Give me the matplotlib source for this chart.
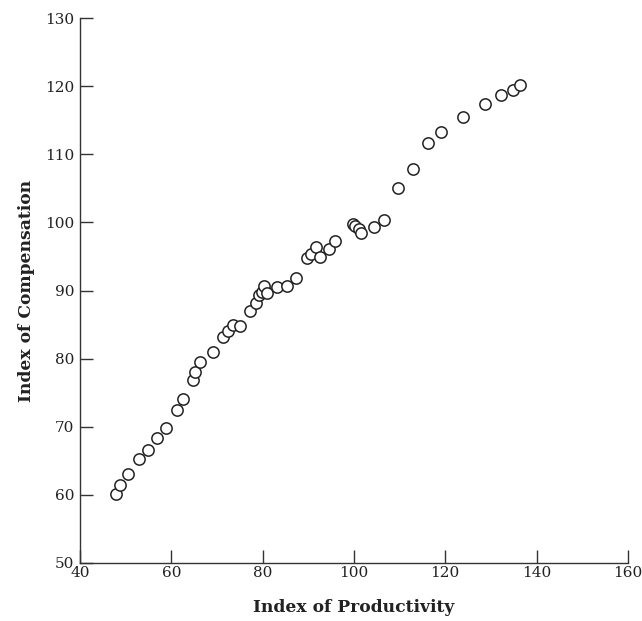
import matplotlib
matplotlib.use("Agg")
import matplotlib.pyplot as plt

# index of productivity (x) vs index of compensation (y)
productivity = [47.9, 48.8, 50.5, 52.9, 54.9, 56.9, 58.8, 61.2, 62.6, 64.7,
                65.2, 66.3, 69.1, 71.3, 72.4, 73.5, 75.0, 77.2, 78.5, 79.2,
                79.9, 80.3, 80.9, 83.1, 85.3, 87.3, 89.7, 90.6, 91.7, 92.5,
                94.5, 95.8, 99.8, 100.3, 101.0, 101.5, 104.4, 106.6, 109.6, 112.9,
                116.2, 119.0, 123.8, 128.7, 132.2, 134.8, 136.4]
compensation = [60.1, 61.4, 63.1, 65.2, 66.6, 68.3, 69.8, 72.4, 74.1, 76.9,
                78.1, 79.5, 80.9, 83.2, 84.0, 85.0, 84.8, 87.0, 88.2, 89.3,
                89.8, 90.7, 89.6, 90.5, 90.6, 91.8, 94.7, 95.4, 96.4, 94.9,
                96.1, 97.3, 99.8, 99.4, 99.0, 98.5, 99.3, 100.3, 105.0, 107.8,
                111.7, 113.2, 115.4, 117.4, 118.7, 119.4, 120.1]

plt.rcParams['font.family'] = ['DejaVu Serif']

fig = plt.figure(figsize=(6.42, 6.21), dpi=100)
ax = fig.add_axes([0.1246, 0.0934, 0.8534, 0.8776])

ax.scatter(productivity, compensation, s=66, facecolors='white',
           edgecolors='#222222', linewidths=1.1, zorder=3, clip_on=False)

ax.set_xlim(40, 160)
ax.set_ylim(50, 130)
ax.set_xticks(range(40, 161, 20))
ax.set_yticks(range(50, 131, 10))

for side in ['top', 'right']:
    ax.spines[side].set_visible(False)
for side in ['left', 'bottom']:
    ax.spines[side].set_linewidth(1.0)
    ax.spines[side].set_color('#333333')

ax.tick_params(direction='in', length=9.5, width=1.0, color='#333333',
               labelsize=11, labelcolor='#222222', pad=2)
ax.tick_params(axis='y', pad=4)

ax.set_xlabel('Index of Productivity', fontsize=12.3, fontweight='bold',
              color='#222222', labelpad=14)
ax.set_ylabel('Index of Compensation', fontsize=12.3, fontweight='bold',
              color='#222222', labelpad=7)

fig.savefig('out.png', dpi=100)
